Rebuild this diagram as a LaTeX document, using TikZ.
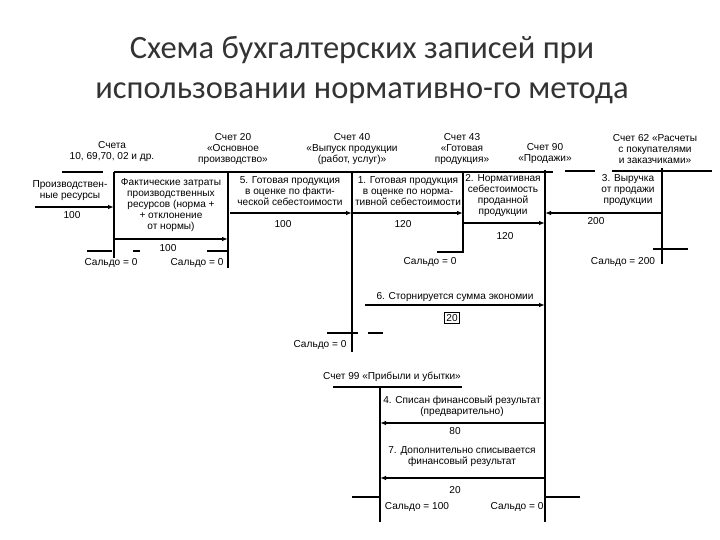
\documentclass[tikz,border=0pt]{standalone}
\usepackage{fontspec}
\setmainfont{Liberation Sans}
\newfontfamily\titlefont{Carlito}
\usetikzlibrary{arrows.meta}
\tikzset{
  acc/.style={font=\fontsize{10.1}{11}\selectfont,align=center,inner sep=0pt},
  amt/.style={font=\fontsize{10.1}{11}\selectfont,inner sep=1pt},
  spine/.style={line width=1.1pt},
  post/.style={line width=1.1pt,-{Latex[length=6pt,width=4.5pt]}},
}
\begin{document}
\begin{tikzpicture}[x=1pt,y=-1pt]
\useasboundingbox (0,0) rectangle (720,540);
% Title
\node[font=\titlefont\fontsize{32.5}{40}\selectfont,text=black!80,align=center] (title) at (362,70)
  {Схема бухгалтерских записей при\\использовании нормативно-го метода};
% Account headings
\node[acc] (h10) at (112,152) {Счета\\10, 69,70, 02 и др.};
\node[acc] (h20) at (233,149) {Счет 20\\«Основное\\производство»};
\node[acc] (h40) at (352,149) {Счет 40\\«Выпуск продукции\\(работ, услуг)»};
\node[acc] (h43) at (462,149) {Счет 43\\«Готовая\\продукция»};
\node[acc] (h90) at (545,154) {Счет 90\\«Продажи»};
\node[acc] (h62) at (655,149) {Счет 62 «Расчеты\\с покупателями\\и заказчиками»};
\node[acc] (h99) at (392,377) {Счет 99 «Прибыли и убытки»};
% Spines of the accounts
\foreach \n/\x/\ya/\yb in {10/114/172/258,20/228/172/268,40/352/172/352,43/463/172/253,
                           90/545/170/522,62/662/168/264,99/380/387/522} {
  \coordinate (t\n) at (\x,\ya);
  \coordinate (b\n) at (\x,\yb);
  \draw[spine] (t\n) -- (b\n);
}
% Heading lines
\draw[spine] (62,172) -- (103,172);
\draw[spine] (t10) -- (553,172);
\draw[spine] (565,171) -- (595,171);
\draw[spine] (612,171) -- (712,171);
\draw[spine] (333,387) -- (462,387);
% Entries
\node[acc] (res) at (70,191) {Производствен-\\ные ресурсы};
\node[acc] (fact) at (171,205) {Фактические затраты\\производственных\\ресурсов (норма +\\+ отклонение\\от нормы)};
\node[acc] (e5) at (290,191) {5. Готовая продукция\\в оценке по факти-\\ческой себестоимости};
\node[acc] (e1) at (408,191) {1. Готовая продукция\\в оценке по норма-\\тивной себестоимости};
\node[acc] (e2) at (503,196) {2. Нормативная\\себестоимость\\проданной\\продукции};
\node[acc] (e3) at (628,190) {3. Выручка\\от продажи\\продукции};
\node[acc] (e6) at (455,297) {6. Сторнируется сумма экономии};
\node[acc] (e4) at (462,406) {4. Списан финансовый результат\\(предварительно)};
\node[acc] (e7) at (462,457) {7. Дополнительно списывается\\финансовый результат};
% Postings
\coordinate (in10) at (35,207);
\coordinate (s5) at (230,213);
\coordinate (s6) at (365,305);
\coordinate (s2) at (463,223);
\coordinate (s3) at (662,213);
\draw[post] (in10) -- (t10 |- in10);
\draw[post] (b10 |- 0,239) -- (b20 |- 0,239);
\draw[post] (s5) -- (t40 |- s5);
\draw[post] (t40 |- s5) -- (t43 |- s5);
\draw[post] (s2) -- (t90 |- s2);
\draw[post] (s3) -- (t90 |- s3);
\draw[post] (s6) -- (t90 |- s6);
\draw[post] (b90 |- 0,423) -- (b99 |- 0,423);
\draw[post] (b90 |- 0,478) -- (b99 |- 0,478);
% Amounts
\node[amt] (m1) at (72,215) {100};
\node[amt] (m2) at (168,248) {100};
\node[amt] (m3) at (283,224) {100};
\node[amt] (m4) at (403,224) {120};
\node[amt] (m5) at (505,236) {120};
\node[amt] (m6) at (596,221) {200};
\node[amt,draw,line width=0.8pt,inner sep=2pt] (m7) at (452,318) {20};
\node[amt] (m8) at (455,431) {80};
\node[amt] (m9) at (455,490) {20};
% Balances
\draw[spine] (87,251) -- (112,251);
\draw[spine] (133,251) -- (140,251);
\draw[spine] (207,251) -- (b20 |- 0,251);
\draw[spine] (437,252) -- (b43 |- 0,252);
\draw[spine] (653,249) -- (688,249);
\draw[spine] (327,333) -- (358,333);
\draw[spine] (368,333) -- (383,333);
\draw[spine] (352,497) -- (b99 |- 0,497);
\draw[spine] (b90 |- 0,497) -- (580,497);
\node[amt] (sal10) at (111,263) {Сальдо = 0};
\node[amt] (sal20) at (197,263) {Сальдо = 0};
\node[amt] (sal43) at (430,262) {Сальдо = 0};
\node[amt] (sal62) at (623,262) {Сальдо = 200};
\node[amt] (sal40) at (320,345) {Сальдо = 0};
\node[amt] (sal99) at (417,507) {Сальдо = 100};
\node[amt] (sal90) at (517,507) {Сальдо = 0};
\end{tikzpicture}
\end{document}
